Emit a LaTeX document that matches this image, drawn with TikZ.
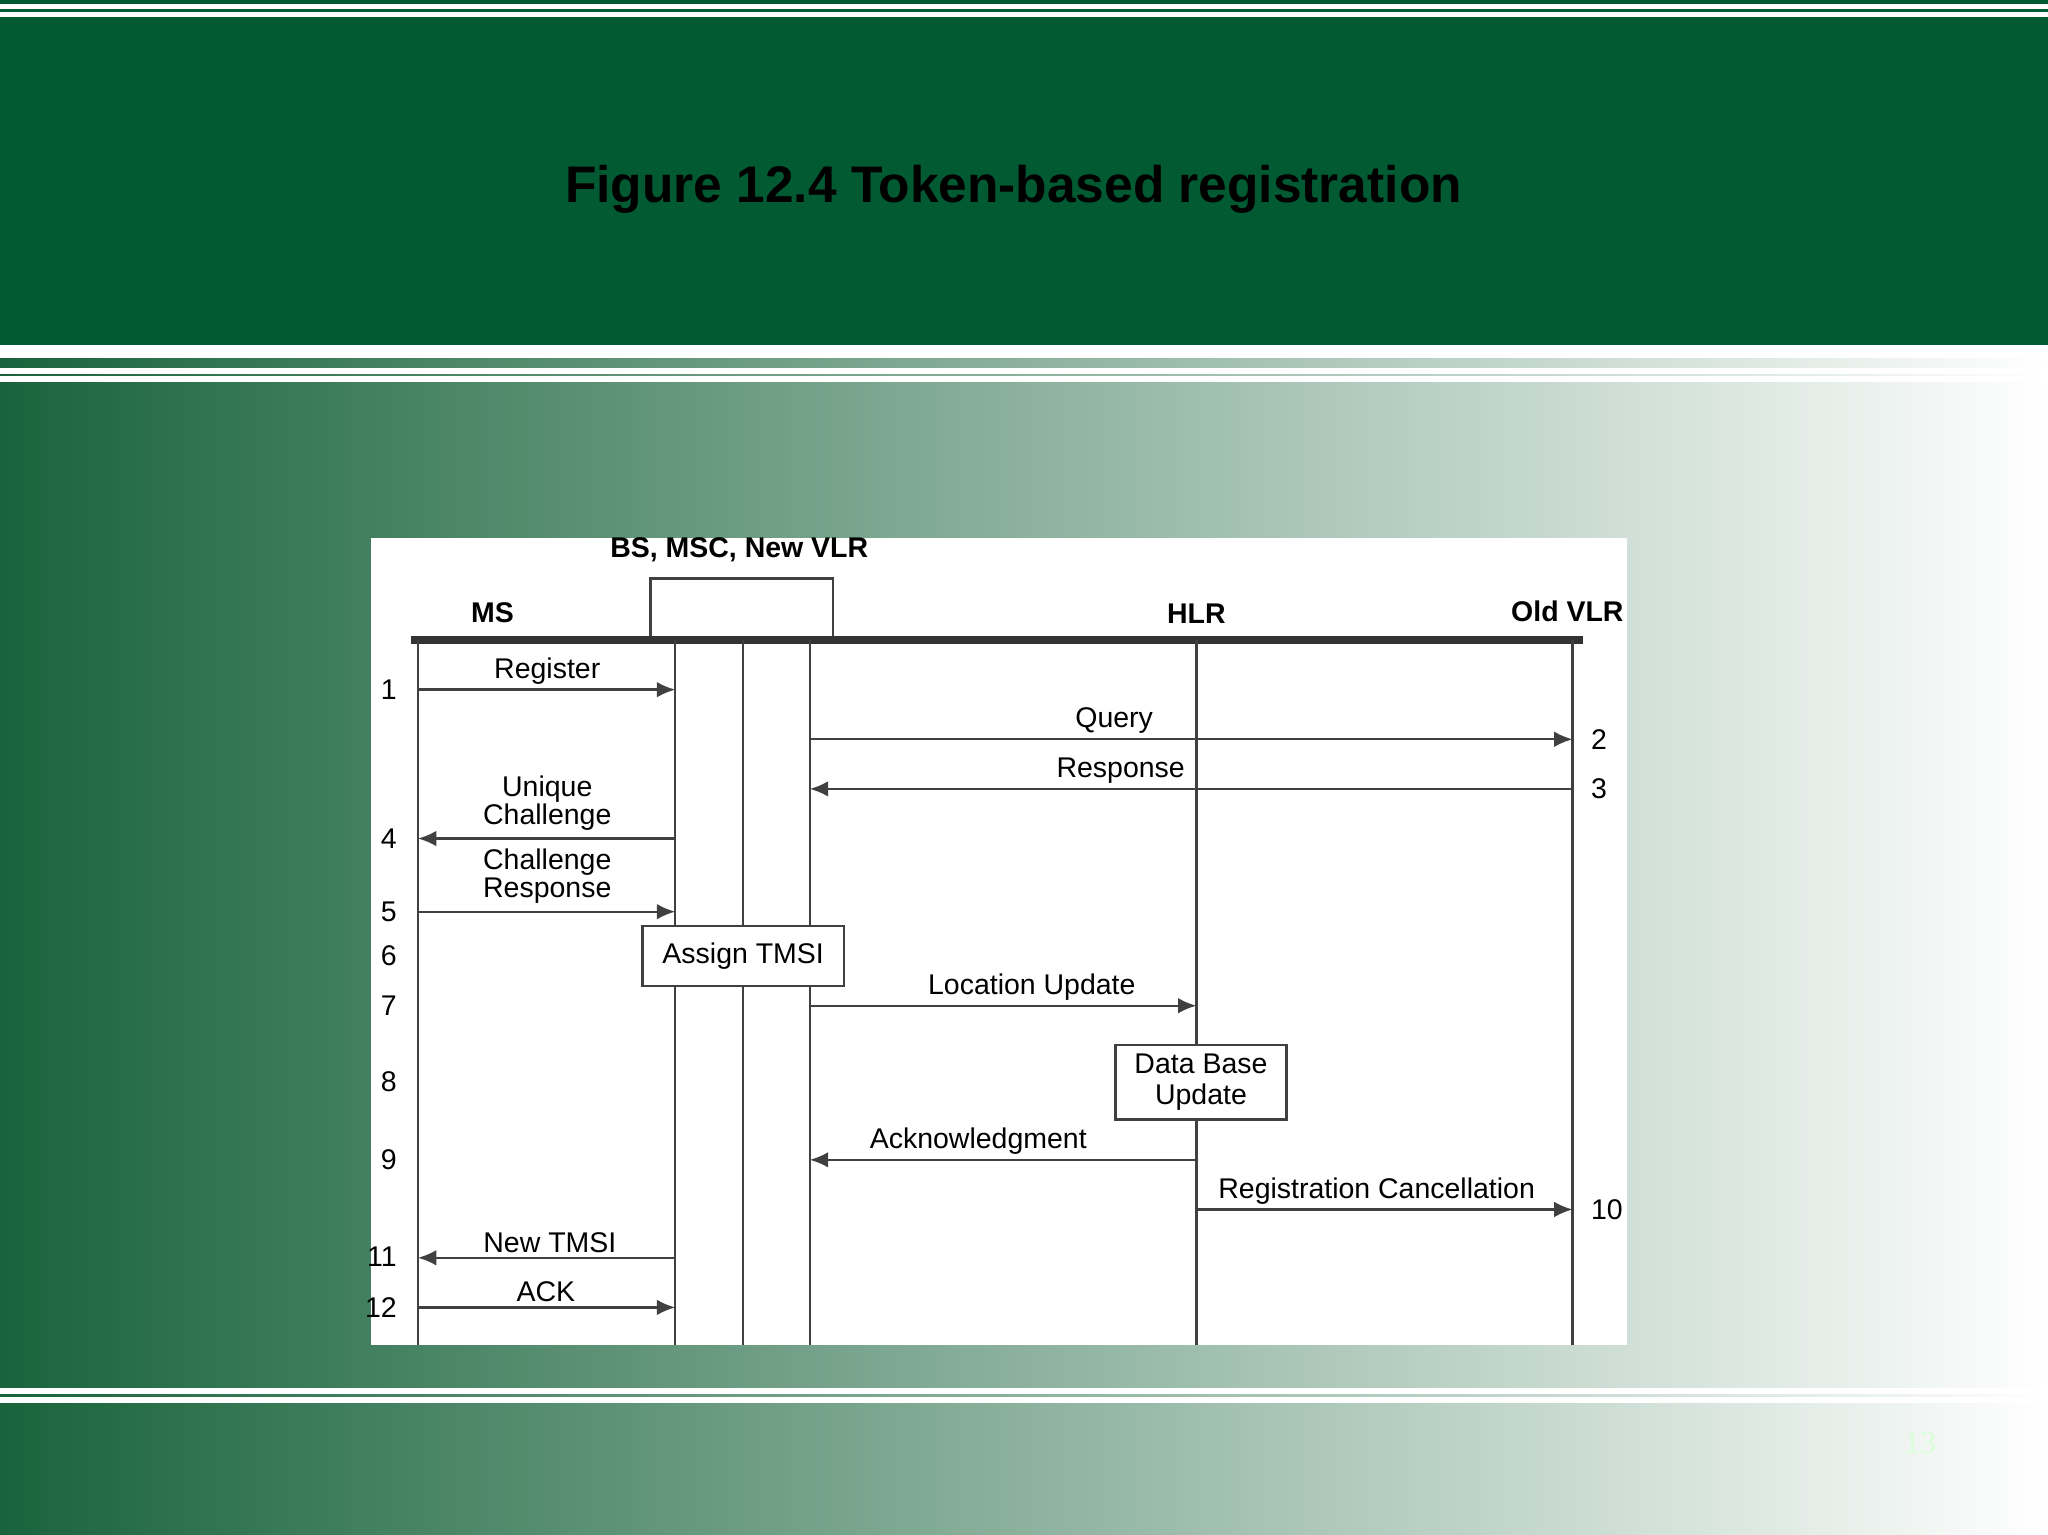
\documentclass[tikz,border=0pt]{standalone}
\usepackage{fontspec}
\setmainfont{Liberation Sans}
\usetikzlibrary{arrows.meta}
\definecolor{band}{RGB}{2,90,50}
\definecolor{dg}{RGB}{25,100,60}
\definecolor{mg}{RGB}{110,168,138}
\begin{document}
\begin{tikzpicture}[x=0.01cm,y=-0.01cm,
  life/.style={draw=black!75,line width=0.5pt},
  msg/.style={draw=black!75,line width=0.5pt,-{Latex[length=4pt,width=3.4pt]}},
  lbl/.style={font=\fontsize{6.2}{6.2}\selectfont,inner sep=1pt},
  num/.style={font=\fontsize{6.2}{6.4}\selectfont,inner sep=1pt},
  hd/.style={font=\fontsize{6.2}{6.2}\selectfont\bfseries},
  boxn/.style={draw=black!75,fill=white,font=\fontsize{6.2}{6.8}\selectfont,align=center,line width=0.5pt,inner sep=0pt}]
\useasboundingbox (0,0) rectangle (1568,1175);
\shade[left color=dg,middle color=mg,right color=white] (0,272) rectangle (1568,1175);
\fill[band] (0,0) rectangle (1568,266);
\foreach \yy in {5,11,266,272,284,290,1065,1072}
  \draw[white,line width=1.2pt] (0,\yy) -- (1568,\yy);
\node[font=\fontsize{11.2}{13}\selectfont\bfseries] (title) at (776,145) {Figure 12.4 Token-based registration};
\node[text=white!85!green,font=\fontsize{7}{8}\selectfont\rmfamily\setmainfont{Liberation Serif}] (pg) at (1470,1105) {13};
\fill[white] (284,412) rectangle (1246,1030);
% headers
\node[hd] (hms) at (377,469) {MS};
\node[hd] (hbs) at (566,421) {BS, MSC, New VLR};
\node[hd] (hhlr) at (916,470) {HLR};
\node[hd] (hold) at (1200,468) {Old VLR};
\draw[life] (498,490) |- (638,443) -- (638,490);
\draw[black!80,line width=1.6pt] (315,490) -- (1212,490);
% lifelines
\foreach \n/\x in {ms/320,a/517,b/569,c/620,hlr/916,ov/1204}{
  \coordinate (\n t) at (\x,490); \coordinate (\n b) at (\x,1030);
  \draw[life] (\n t) -- (\n b);}
% boxes
\node[boxn,minimum width=1.54cm,minimum height=0.46cm] (tmsi) at (569,732) {Assign TMSI};
\node[boxn,minimum width=1.31cm,minimum height=0.57cm] (dbu) at (919.5,828.5) {Data Base\\Update};
% messages
\foreach \y/\f/\t/\nm in {528/320/517/m1,566/620/1204/m2,604/1204/620/m3,642/517/320/m4,698/320/517/m5,770/620/916/m7,888/916/620/m9,926/916/1204/m10,963/517/320/m11,1001/320/517/m12}{
  \coordinate (\nm s) at (\f,\y); \coordinate (\nm e) at (\t,\y);
  \draw[msg] (\nm s) -- (\nm e);}
\node[lbl,above] at (419,528) {Register};
\node[lbl,above] at (853,566) {Query};
\node[lbl,above] at (858,604) {Response};
\node[lbl,above,align=center] at (419,640) {Unique\\Challenge};
\node[lbl,above,align=center] at (419,696) {Challenge\\Response};
\node[lbl,above] at (790,770) {Location Update};
\node[lbl,above] at (749,888) {Acknowledgment};
\node[lbl,above] at (1054,926) {Registration Cancellation};
\node[lbl,above] at (421,963) {New TMSI};
\node[lbl,above] at (418,1001) {ACK};
\foreach \y/\t in {528/1,642/4,698/5,732/6,770/7,828/8,888/9,962/11,1001/12}
  \node[num,anchor=east] at (308,\y) {\t};
\foreach \y/\t in {566/2,604/3,926/10}
  \node[num,anchor=west] at (1214,\y) {\t};
\end{tikzpicture}
\end{document}
